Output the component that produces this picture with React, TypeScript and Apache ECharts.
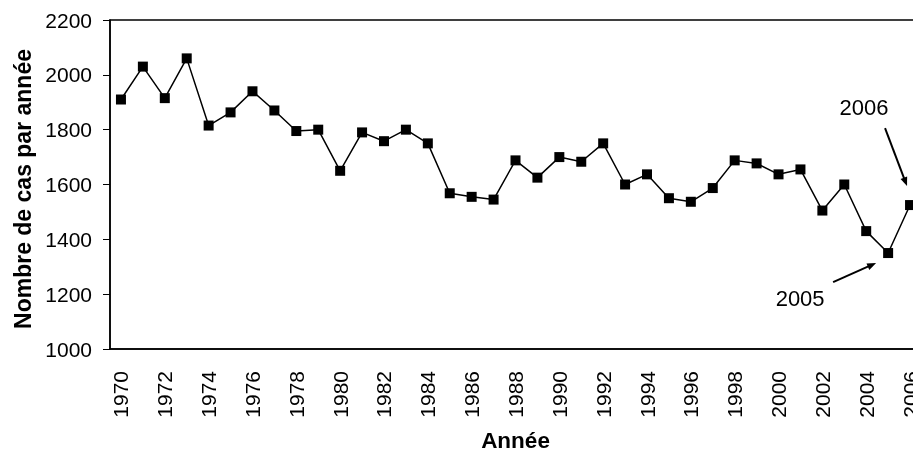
import { useEffect, useRef } from "react";
import * as echarts from "echarts";

const years = [
  "1970", "1971", "1972", "1973", "1974", "1975", "1976", "1977", "1978", "1979",
  "1980", "1981", "1982", "1983", "1984", "1985", "1986", "1987", "1988", "1989",
  "1990", "1991", "1992", "1993", "1994", "1995", "1996", "1997", "1998", "1999",
  "2000", "2001", "2002", "2003", "2004", "2005", "2006",
];
const cases = [
  1910, 2030, 1915, 2060, 1815, 1863, 1940, 1870, 1795, 1800,
  1650, 1790, 1758, 1800, 1750, 1568, 1555, 1545, 1688, 1625,
  1700, 1683, 1750, 1600, 1637, 1550, 1537, 1587, 1688, 1677,
  1637, 1655, 1505, 1600, 1430, 1350, 1525,
];
const yTicks = { min: 1000, max: 2200, step: 200 };
const notes = [
  { year: "2006", value: 1525, text: [-46, -98], from: [-25, -77], to: [-3, -19] },
  { year: "2005", value: 1350, text: [-88, 45], from: [-55, 29], to: [-12, 10] },
];

const font = "'Liberation Sans', Arial, sans-serif";

const App = () => {
  const chartRef = useRef(null);

  useEffect(() => {
    const chart = echarts.init(chartRef.current, null, { renderer: "svg" });
    chart.setOption({
      animation: false,
      textStyle: { fontFamily: font },
      grid: {
        left: 110,
        top: 20,
        right: 4,
        bottom: 100,
        show: true,
        borderColor: "#000",
        borderWidth: 1.5,
      },
      xAxis: {
        type: "category",
        data: years,
        name: "Année",
        nameLocation: "middle",
        nameGap: 80,
        nameTextStyle: { fontSize: 22.5, fontWeight: "bold", color: "#000", fontFamily: font },
        axisLine: { lineStyle: { color: "#000", width: 1.5 } },
        axisTick: { interval: 0, length: 5, lineStyle: { color: "#000" } },
        axisLabel: { interval: 1, rotate: 90, margin: 22, fontSize: 21, color: "#000", fontFamily: font },
      },
      yAxis: {
        type: "value",
        min: yTicks.min,
        max: yTicks.max,
        interval: yTicks.step,
        name: "Nombre de cas par année",
        nameLocation: "middle",
        nameGap: 74,
        nameTextStyle: {
          fontSize: 23,
          fontWeight: "bold",
          color: "#000",
          fontFamily: font,
          padding: [0, 9, 0, 0],
        },
        axisLine: { show: true, lineStyle: { color: "#000", width: 1.5 } },
        axisTick: { show: true, length: 7, lineStyle: { color: "#000" } },
        axisLabel: {
          margin: 18,
          fontSize: 21,
          color: "#000",
          fontFamily: font,
          formatter: (v: number) => String(v),
        },
        splitLine: { show: false },
      },
      series: [
        {
          type: "line",
          data: cases,
          symbol: "rect",
          symbolSize: 10,
          itemStyle: { color: "#000" },
          lineStyle: { color: "#000", width: 1.5 },
        },
      ],
    });

    // annotations with arrows, anchored to the data points
    const elements: any[] = [];
    notes.forEach((n) => {
      const p = chart.convertToPixel({ seriesIndex: 0 }, [n.year, n.value]) as number[];
      const sx = p[0] + n.from[0];
      const sy = p[1] + n.from[1];
      const tx = p[0] + n.to[0];
      const ty = p[1] + n.to[1];
      const len = Math.hypot(tx - sx, ty - sy);
      const dx = (tx - sx) / len;
      const dy = (ty - sy) / len;
      const L = 9;
      const W = 7;
      elements.push({
        type: "line",
        shape: { x1: sx, y1: sy, x2: tx - dx * L * 0.8, y2: ty - dy * L * 0.8 },
        style: { stroke: "#000", lineWidth: 2 },
      });
      elements.push({
        type: "polygon",
        shape: {
          points: [
            [tx, ty],
            [tx - dx * L - dy * W / 2, ty - dy * L + dx * W / 2],
            [tx - dx * L + dy * W / 2, ty - dy * L - dx * W / 2],
          ],
        },
        style: { fill: "#000" },
      });
      elements.push({
        type: "text",
        x: p[0] + n.text[0],
        y: p[1] + n.text[1],
        style: {
          text: n.year,
          fontSize: 22,
          fontFamily: font,
          fill: "#000",
          align: "center",
          verticalAlign: "middle",
        },
      });
    });
    chart.setOption({ graphic: { elements } });

    return () => {
      chart.dispose();
    };
  }, []);

  return (
    <div
      ref={chartRef}
      style={{ position: "fixed", left: 0, top: 0, width: 925, height: 457 }}
    ></div>
  );
};

export default App;
